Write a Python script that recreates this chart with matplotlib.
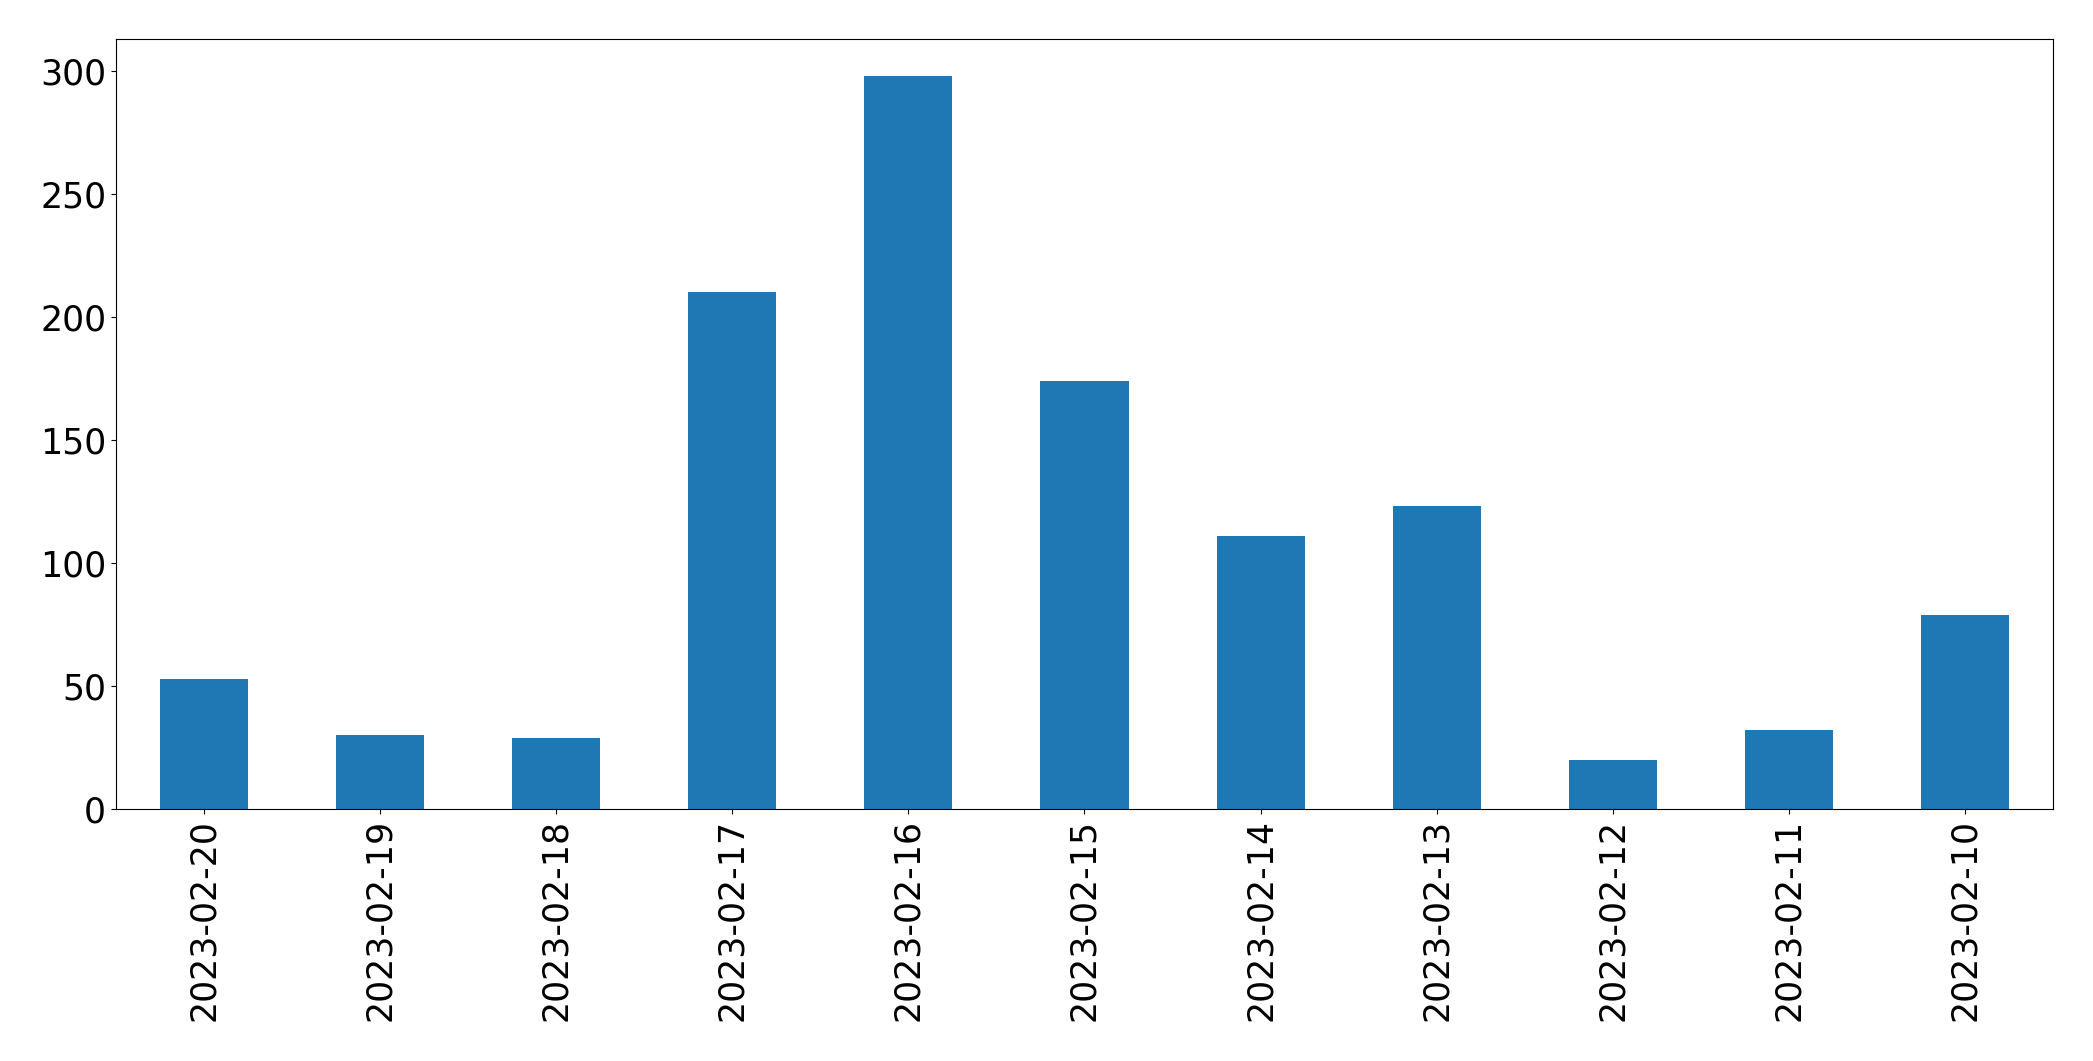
import matplotlib
matplotlib.use('Agg')
import matplotlib.pyplot as plt
import numpy as np

# 날짜별 값
dates = ['2023-02-20', '2023-02-19', '2023-02-18', '2023-02-17', '2023-02-16',
         '2023-02-15', '2023-02-14', '2023-02-13', '2023-02-12', '2023-02-11',
         '2023-02-10']
counts = [53, 30, 29, 210, 298, 174, 111, 123, 20, 32, 79]

fig = plt.figure(figsize=(20.93, 10.61), dpi=100)
ax = fig.add_axes([0.0554, 0.2375, 0.9255, 0.7257])

x = np.arange(len(dates))
ax.bar(x, counts, width=0.5, color='#1f77b4')
ax.set_xlim(-0.5, len(dates) - 0.5)
ax.set_ylim(0, max(counts) * 1.05)
ax.set_xticks(x)
ax.set_xticklabels(dates, rotation=90)
ax.tick_params(axis='both', labelsize=25)

fig.savefig('out.png', dpi=100)
